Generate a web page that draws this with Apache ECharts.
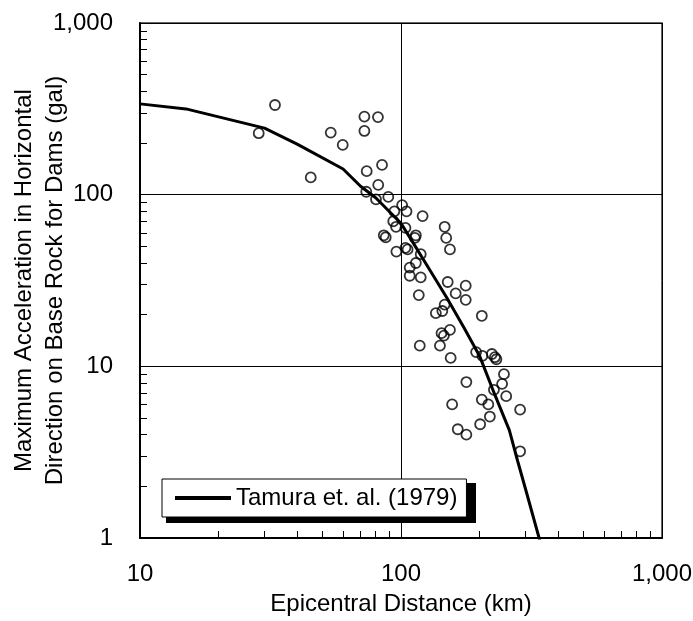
<!DOCTYPE html>
<html>
<head>
<meta charset="utf-8">
<script src="https://cdn.jsdelivr.net/npm/echarts@6/dist/echarts.min.js"></script>
<style>
html,body{margin:0;padding:0;background:#fff;}
#chart{width:693px;height:621px;}
</style>
</head>
<body>
<div id="chart"></div>
<script>
// Observed data (epicentral distance km, max acceleration gal)
const distance = [28.5, 32.9, 45.1, 53.8, 59.8, 72.4, 81.6, 72.4, 84.6, 73.9, 81.8, 73.6, 80.2, 89.4, 101, 105, 94.3, 121, 93.4, 95.7, 104, 147, 149, 85.9, 87.4, 114, 113, 154, 96, 104, 106, 119, 114, 108, 108, 119, 151, 177, 162, 177, 117, 147, 144, 136, 204, 154, 143, 146, 118, 141, 155, 194, 205, 223, 229, 232, 248, 178, 244, 227, 253, 204, 216, 157, 286, 219, 201, 165, 178, 286];
const acceleration = [228, 333, 126, 230, 195, 285, 283, 235, 149, 137, 114, 104, 94, 97, 87, 80, 80, 75, 70, 65, 64, 65, 56, 58, 56.5, 58, 56, 48, 46.6, 49, 48, 45, 40, 37.6, 33.7, 33, 31, 29.5, 26.6, 24.4, 26, 22.9, 21, 20.4, 19.7, 16.3, 15.6, 15.1, 13.2, 13.2, 11.2, 12.1, 11.5, 11.8, 11.3, 11.0, 9.0, 8.1, 7.9, 7.3, 6.7, 6.4, 6.0, 6.0, 5.6, 5.1, 4.6, 4.3, 4.0, 3.2];

// Tamura et al. (1979) attenuation curve
const curveDistance = [10, 15, 30, 40, 60, 70, 80, 90, 100, 110, 120, 130, 150, 175, 200, 230, 260, 280, 300, 340];
const curveAccel = [338, 316, 244, 197, 141, 112, 96, 80, 68, 54, 43.5, 35.7, 25, 16.6, 11.5, 6.7, 4.25, 2.8, 1.93, 0.97];

const curveName = 'Tamura et. al. (1979)';
const xMinorTicks = [20, 30, 40, 50, 60, 70, 80, 90, 200, 300, 400, 500, 600, 700, 800, 900];
const yMinorTicks = [2, 3, 4, 5, 6, 7, 8, 9, 20, 30, 40, 50, 60, 70, 80, 90, 200, 300, 400, 500, 600, 700, 800, 900];

const fmt = v => Number(v).toLocaleString('en-US');
const FONT = '"Liberation Sans", Arial, sans-serif';
const FS = 24;

const chart = echarts.init(document.getElementById('chart'), null, {renderer: 'canvas'});
chart.setOption({
  animation: false,
  textStyle: {fontFamily: FONT, color: '#000'},
  grid: {left: 140, right: 31, top: 23, bottom: 83, containLabel: false, outerBoundsMode: 'none',
         show: true, borderColor: '#333', borderWidth: 1.5, backgroundColor: 'transparent'},
  graphic: [{
    // legend drop shadow
    type: 'rect', left: 166, top: 483, z: 1, silent: true,
    shape: {width: 310, height: 40},
    style: {fill: '#000'}
  }],
  legend: {
    data: [{name: curveName, icon: 'rect'}],
    left: 162, top: 479, z: 10,
    orient: 'horizontal',
    padding: [7, 9, 7, 13],
    itemWidth: 56, itemHeight: 4, itemGap: 0,
    backgroundColor: '#fff',
    borderColor: '#000', borderWidth: 1,
    textStyle: {fontSize: FS, color: '#000', fontFamily: FONT},
    selectedMode: false
  },
  xAxis: [{
    type: 'log', logBase: 10, min: 10, max: 1000,
    name: 'Epicentral Distance (km)', nameLocation: 'middle', nameGap: 54, nameMoveOverlap: false,
    nameTextStyle: {fontSize: FS, color: '#000', fontFamily: FONT},
    axisLine: {show: true, lineStyle: {color: '#000', width: 2}},
    axisTick: {show: false},
    axisLabel: {fontSize: FS, color: '#000', margin: 24, formatter: fmt, fontFamily: FONT},
    splitLine: {show: true, lineStyle: {color: '#000', width: 1}},
    minorTick: {show: false}
  }, {
    type: 'log', logBase: 10, min: 10, max: 1000, position: 'bottom',
    axisLine: {show: false},
    axisLabel: {show: false},
    splitLine: {show: false},
    axisTick: {show: true, inside: true, length: 7, customValues: xMinorTicks, lineStyle: {color: '#000', width: 1}}
  }],
  yAxis: [{
    type: 'log', logBase: 10, min: 1, max: 1000,
    name: 'Maximum Acceleration in Horizontal\nDirection on Base Rock for Dams (gal)',
    nameLocation: 'middle', nameGap: 69, nameRotate: 90, nameMoveOverlap: false,
    nameTextStyle: {fontSize: FS, color: '#000', lineHeight: 31, fontFamily: FONT},
    axisLine: {show: true, lineStyle: {color: '#000', width: 2}},
    axisTick: {show: false},
    axisLabel: {fontSize: FS, color: '#000', margin: 27, formatter: fmt, fontFamily: FONT},
    splitLine: {show: true, lineStyle: {color: '#000', width: 1}}
  }, {
    type: 'log', logBase: 10, min: 1, max: 1000, position: 'left',
    axisLine: {show: false},
    axisLabel: {show: false},
    splitLine: {show: false},
    axisTick: {show: true, inside: true, length: 7, customValues: yMinorTicks, lineStyle: {color: '#000', width: 1}}
  }],
  series: [{
    name: curveName,
    type: 'line',
    data: curveDistance.map((d, i) => [d, curveAccel[i]]),
    symbol: 'none',
    smooth: false,
    clip: true,
    lineStyle: {color: '#000', width: 3},
    itemStyle: {color: '#000'},
    z: 2
  }, {
    name: 'Observed',
    type: 'scatter',
    data: distance.map((d, i) => [d, acceleration[i]]),
    symbol: 'circle',
    symbolSize: 10,
    itemStyle: {color: 'rgba(0,0,0,0)', borderColor: '#000', borderWidth: 1.8},
    z: 3
  }]
});
</script>
</body>
</html>
